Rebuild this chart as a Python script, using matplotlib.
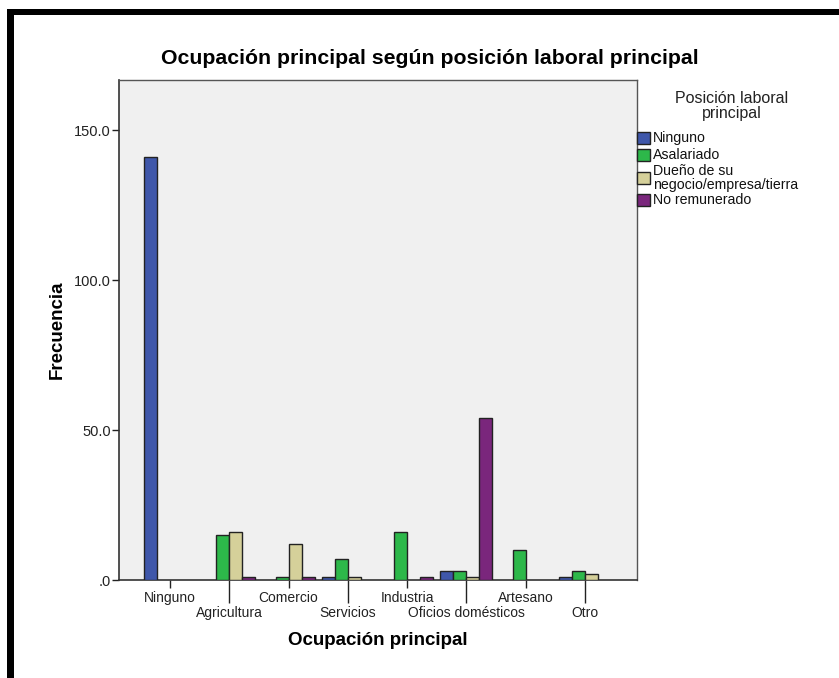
import matplotlib
matplotlib.use("Agg")
import matplotlib.pyplot as plt
from matplotlib.patches import Rectangle
from matplotlib.ticker import FuncFormatter
import numpy as np

plt.rcParams['font.family'] = ['Liberation Sans', 'DejaVu Sans']

categorias = ["Ninguno", "Agricultura", "Comercio", "Servicios", "Industria",
              "Oficios domésticos", "Artesano", "Otro"]
series = ["Ninguno", "Asalariado", "Dueño de su\nnegocio/empresa/tierra", "No remunerado"]
colores = ["#3F57AA", "#2DB84A", "#D5D09A", "#7A267C"]

ninguno = [141, 0, 0, 1, 0, 3, 0, 1]
asalariado = [0, 15, 1, 7, 16, 3, 10, 3]
dueno = [0, 16, 12, 1, 0, 1, 0, 2]
no_remunerado = [0, 1, 1, 0, 1, 54, 0, 0]
valores = [ninguno, asalariado, dueno, no_remunerado]

W, H = 839, 678
fig = plt.figure(figsize=(W / 100, H / 100), dpi=100)
fig.patch.set_facecolor("white")

# marco negro (izquierda y arriba)
fig.add_artist(Rectangle((7 / W, 0), 7 / W, 1 - 9 / H, transform=fig.transFigure,
                         facecolor="black", edgecolor="none"))
fig.add_artist(Rectangle((7 / W, 1 - 15 / H), 1, 6 / H, transform=fig.transFigure,
                         facecolor="black", edgecolor="none"))

ax = fig.add_axes([119 / W, 1 - 580 / H, (637 - 119) / W, (580 - 80) / H])
ax.set_facecolor("#F0F0F0")

x = np.arange(len(categorias))
ancho = 0.219
for i, (vals, col) in enumerate(zip(valores, colores)):
    vals = np.array(vals)
    m = vals > 0
    ax.bar(x[m] + (i - 1.5) * ancho, vals[m], width=ancho, color=col,
           edgecolor="#222222", linewidth=1.0, zorder=3)

ax.set_xlim(-0.86, 7.877)
ax.set_ylim(0, 166.7)
ax.set_yticks([0, 50, 100, 150])
ax.yaxis.set_major_formatter(FuncFormatter(lambda v, p: ".0" if v == 0 else f"{v:.1f}"))

ax.set_xticks(x[::2])
ax.set_xticklabels(categorias[::2])
ax.set_xticks(x[1::2], minor=True)
ax.set_xticklabels(categorias[1::2], minor=True)
ax.tick_params(axis="x", which="major", length=6, width=1, pad=2, labelsize=10,
               colors="#222222")
ax.tick_params(axis="x", which="minor", length=16.5, width=1, pad=2, labelsize=10,
               colors="#222222")
ax.tick_params(axis="y", length=5, width=1, pad=1, labelsize=10.5, colors="#222222")

for s in ["left", "bottom"]:
    ax.spines[s].set_color("#333333")
    ax.spines[s].set_linewidth(1.2)
for s in ["top", "right"]:
    ax.spines[s].set_color("#555555")
    ax.spines[s].set_linewidth(1.0)

ax.set_xlabel("Ocupación principal", fontsize=13.5, fontweight="bold", labelpad=9)
ax.set_ylabel("Frecuencia", fontsize=13.5, fontweight="bold", labelpad=6)
fig.text(430 / W, 1 - 58 / H, "Ocupación principal según posición laboral principal",
         ha="center", va="center", fontsize=15.3, fontweight="bold")

# leyenda
fig.text(732 / W, 1 - 106 / H, "Posición laboral\nprincipal", ha="center", va="center",
         fontsize=11.5, color="#222222", linespacing=0.95)
centros = [138, 155, 178, 200]
for nombre, col, cy in zip(series, colores, centros):
    fig.add_artist(Rectangle((637 / W, 1 - (cy + 6) / H), 13 / W, 12 / H,
                             transform=fig.transFigure, facecolor=col,
                             edgecolor="#222222", linewidth=1.0))
    fig.text(653 / W, 1 - cy / H, nombre, ha="left", va="center", fontsize=10.2,
             color="#111111", linespacing=0.95)

fig.savefig("out.png", dpi=100)
